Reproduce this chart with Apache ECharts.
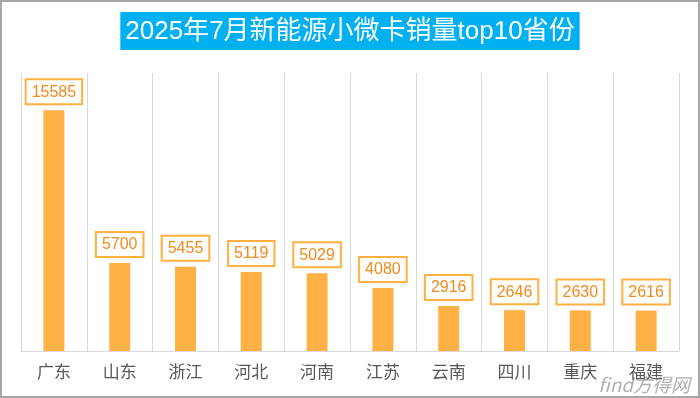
<!DOCTYPE html>
<html>
<head>
<meta charset="utf-8">
<script src="https://cdn.jsdelivr.net/npm/echarts@6/dist/echarts.min.js"></script>
<style>
  html, body { margin: 0; padding: 0; background: #fff; }
  #chart { width: 700px; height: 398px; }
</style>
</head>
<body>
<div id="chart"></div>
<script>
// 2025年7月 新能源小微卡销量 top10 省份
var provinces = ['广东', '山东', '浙江', '河北', '河南', '江苏', '云南', '四川', '重庆', '福建'];
var sales = [15585, 5700, 5455, 5119, 5029, 4080, 2916, 2646, 2630, 2616];
var titleText = '2025年7月新能源小微卡销量top10省份';

var chart = echarts.init(document.getElementById('chart'), null, { renderer: 'canvas' });

var options = {
  backgroundColor: '#fff',
  animation: false,
  title: {
    text: titleText,
    left: 'center',
    top: 12,
    padding: [6, 5, 5, 5],
    backgroundColor: '#00B0F0',
    textStyle: {
      color: '#fff',
      fontSize: 26,
      fontWeight: 'normal',
      fontFamily: '"Liberation Sans", "Noto Sans CJK SC", sans-serif',
      lineHeight: 27
    }
  },
  grid: { left: 21, right: 21, top: 73, bottom: 47, containLabel: false },
  xAxis: {
    type: 'category',
    data: provinces,
    axisLine: { show: true, lineStyle: { color: '#D9D9D9', width: 1 } },
    axisTick: { show: false },
    splitLine: { show: true, lineStyle: { color: '#D9D9D9', width: 1 } },
    axisLabel: {
      color: '#595959',
      fontSize: 17,
      margin: 12,
      fontFamily: '"Noto Sans CJK SC", sans-serif'
    }
  },
  yAxis: {
    type: 'value',
    min: 0,
    max: 18000,
    show: false,
    splitLine: { show: false }
  },
  series: [{
    type: 'bar',
    data: sales,
    barWidth: 21,
    itemStyle: { color: '#FFB145' },
    label: {
      show: true,
      position: 'top',
      distance: 7,
      color: '#F08A1C',
      fontSize: 16,
      fontFamily: '"Liberation Sans", Arial, sans-serif',
      backgroundColor: '#fff',
      borderColor: '#FFB040',
      borderWidth: 2,
      padding: [4, 5, 3, 5]
    }
  }],
  graphic: [
    {
      type: 'rect',
      shape: { x: 1, y: 1, width: 698, height: 396 },
      style: { fill: 'none', stroke: '#A6A6A6', lineWidth: 2 },
      silent: true
    },
    {
      type: 'text',
      right: 10,
      bottom: 4,
      style: {
        text: 'find方得网',
        fill: '#B0B0B0',
        fontSize: 19,
        fontStyle: 'italic',
        fontFamily: '"Noto Sans CJK SC", sans-serif'
      },
      silent: true
    }
  ]
};

chart.setOption(options);
</script>
</body>
</html>
